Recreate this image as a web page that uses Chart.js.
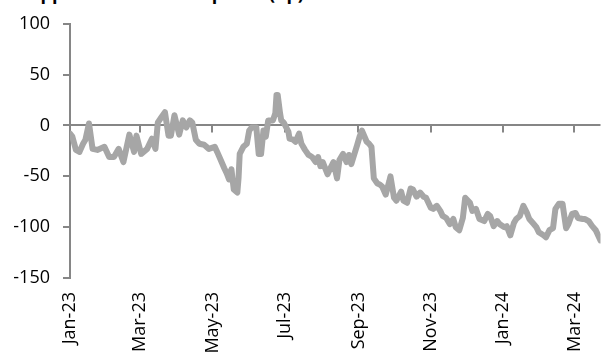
<!DOCTYPE html>
<html>
<head>
<meta charset="utf-8">
<script src="https://cdn.jsdelivr.net/npm/chart.js@4.4.1/dist/chart.umd.min.js"></script>
<style>
  body { margin: 0; background: #fff; overflow: hidden; }
  #wrap { position: relative; width: 610px; height: 353px; overflow: hidden; }
  #title { position: absolute; left: 27px; top: -16px; font: bold 18px 'Open Sans'; line-height: 18px; white-space: nowrap; color: #000; }
  #box { position: absolute; left: 0; top: 0; width: 610px; height: 353px; }
</style>
</head>
<body>
<div id="wrap">
  <div id="title">Upper minus lower spread (bp)</div>
  <div id="box"><canvas id="spreadChart"></canvas></div>
</div>
<script>
// days since 1 Jan 2023
const days = [0, 2, 5, 8, 11, 13, 16, 19, 23, 29, 33, 37, 41, 45, 50, 54, 56, 60, 65, 69,
  72, 74, 77, 80, 83, 85, 88, 92, 95, 98, 101, 103, 106, 109, 113, 117, 122, 124, 127, 130,
  132, 134, 136, 138, 141, 142, 143, 146, 149, 151, 153, 157, 159, 161, 163, 165, 167, 171, 173, 174,
  175, 177, 178, 180, 184, 185, 188, 190, 193, 195, 198, 201, 204, 207, 209, 211, 213, 217, 219, 222,
  225, 227, 230, 233, 235, 237, 242, 244, 246, 250, 252, 254, 256, 259, 261, 263, 266, 269, 270, 273,
  275, 279, 281, 284, 287, 289, 292, 295, 298, 300, 304, 306, 309, 312, 314, 317, 320, 323, 325, 328,
  331, 333, 337, 339, 342, 345, 349, 352, 354, 357, 360, 362, 366, 368, 371, 374, 376, 379, 382, 385,
  387, 390, 393, 395, 399, 401, 404, 407, 409, 412, 415, 418, 420, 423, 426, 428, 432, 434, 437, 440,
  443, 447];
const spread = [-8, -11, -24, -26, -18, -14, 2, -23, -24, -21, -31, -31, -23, -36, -9, -26, -10, -28, -23, -13,
  -23, 3, 8, 13, -10, -10, 10, -9, 5, -2, 5, 3, -14, -18, -19, -23, -21, -26, -34, -42,
  -47, -53, -43, -63, -66, -52, -28, -21, -18, -5, -2, -2, -28, -28, -5, -11, 5, 5, 12, 30,
  30, 12, 5, 3, -6, -13, -14, -16, -8, -18, -24, -29, -31, -36, -31, -40, -36, -48, -43, -36,
  -52, -34, -28, -36, -29, -38, -19, -11, -5, -16, -18, -21, -52, -57, -58, -60, -68, -55, -50, -71,
  -74, -65, -74, -76, -62, -63, -70, -66, -70, -71, -81, -82, -79, -84, -89, -91, -97, -92, -100, -103,
  -91, -71, -76, -84, -82, -92, -94, -87, -89, -99, -94, -97, -100, -99, -108, -96, -92, -89, -79, -86,
  -92, -96, -100, -105, -108, -110, -103, -101, -82, -77, -77, -101, -97, -87, -86, -91, -92, -92, -94, -99,
  -103, -113];

const tickDays = [0, 59, 120, 181, 243, 304, 365, 425];
const tickLabels = ['Jan-23', 'Mar-23', 'May-23', 'Jul-23', 'Sep-23', 'Nov-23', 'Jan-24', 'Mar-24'];
const yTicks = [-150, -100, -50, 0, 50, 100];

const axisGrey = '#868686';

// small tick marks hanging under the zero line, like the excel category axis
const zeroTicks = {
  id: 'zeroTicks',
  beforeDatasetsDraw(chart) {
    const { ctx, scales: { x, y } } = chart;
    const y0 = y.getPixelForValue(0);
    ctx.save();
    ctx.strokeStyle = axisGrey;
    ctx.lineWidth = 2;
    tickDays.slice(1).forEach(d => {
      const px = Math.round(x.getPixelForValue(d));
      ctx.beginPath();
      ctx.moveTo(px, y0);
      ctx.lineTo(px, y0 + 7);
      ctx.stroke();
    });
    ctx.restore();
  }
};

Chart.defaults.font.family = 'Open Sans';
Chart.defaults.font.size = 18;
Chart.defaults.color = '#000';

const ctx = document.getElementById('spreadChart').getContext('2d');
new Chart(ctx, {
  type: 'line',
  data: {
    datasets: [{
      data: days.map((d, i) => ({ x: d, y: spread[i] })),
      borderColor: '#a6a6a6',
      borderWidth: 6,
      borderJoinStyle: 'round',
      borderCapStyle: 'round',
      pointRadius: 0,
      tension: 0
    }]
  },
  options: {
    responsive: true,
    maintainAspectRatio: false,
    animation: false,
    layout: { autoPadding: false, padding: { top: 20, right: 0, bottom: 0, left: 0 } },
    plugins: { legend: { display: false }, tooltip: { enabled: false } },
    scales: {
      x: {
        type: 'linear',
        min: 0,
        max: 447,
        afterBuildTicks: scale => { scale.ticks = tickDays.map(v => ({ value: v })); },
        afterFit: scale => { scale.height = 75; },
        grid: { display: false, drawTicks: false },
        border: { display: false },
        ticks: {
          autoSkip: false,
          minRotation: 90,
          maxRotation: 90,
          padding: 14,
          callback: v => tickLabels[tickDays.indexOf(v)]
        }
      },
      y: {
        min: -150,
        max: 100,
        afterBuildTicks: scale => { scale.ticks = yTicks.map(v => ({ value: v })); },
        afterFit: scale => { scale.width = 70; },
        grid: {
          drawOnChartArea: true,
          color: c => (c.tick && c.tick.value === 0 ? axisGrey : 'rgba(0,0,0,0)'),
          lineWidth: 2,
          tickColor: axisGrey,
          tickLength: 7
        },
        border: { color: axisGrey, width: 2 },
        ticks: { padding: 13 }
      }
    }
  },
  plugins: [zeroTicks]
});
</script>
</body>
</html>
